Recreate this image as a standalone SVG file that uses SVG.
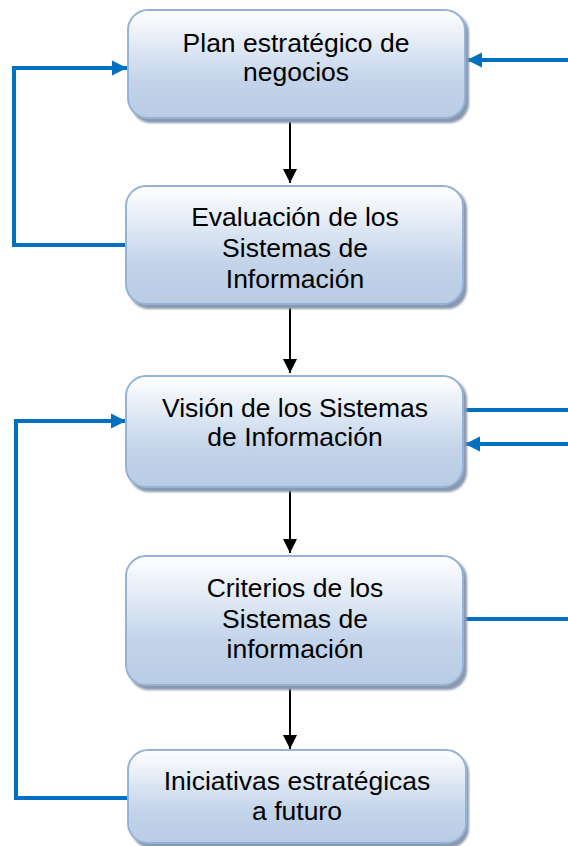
<svg xmlns="http://www.w3.org/2000/svg" width="568" height="846" viewBox="0 0 568 846">
<defs>
<linearGradient id="g" x1="0" y1="0" x2="0" y2="1">
<stop offset="0" stop-color="#ffffff"/>
<stop offset="0.65" stop-color="#c3d4ea"/>
<stop offset="1" stop-color="#b8cce4"/>
</linearGradient>
<filter id="sh" x="-5%" y="-5%" width="115%" height="120%">
<feGaussianBlur stdDeviation="1.2"/>
</filter>
<marker id="ab" viewBox="0 0 10 10" refX="10" refY="5" markerWidth="3.8" markerHeight="3.8" orient="auto" markerUnits="strokeWidth">
<path d="M0,0 L10,5 L0,10 Z" fill="#0070c0"/>
</marker>
<marker id="ak" viewBox="0 0 10 10" refX="10" refY="5" markerWidth="7" markerHeight="7" orient="auto" markerUnits="strokeWidth">
<path d="M0,0 L10,5 L0,10 Z" fill="#000"/>
</marker>
</defs>
<style>
.box{fill:url(#g);stroke:#95b3d7;stroke-width:2}
.shadow{fill:#8a99ae;filter:url(#sh)}
.t{font-family:"Liberation Sans",Arial,sans-serif;font-size:26.5px;fill:#000;text-anchor:middle}
.blue{fill:none;stroke:#0070c0;stroke-width:4}
.blk{fill:none;stroke:#000;stroke-width:2}
</style>
<g id="connectors">
<path class="blk" d="M290,122 V183" marker-end="url(#ak)"/>
<path class="blk" d="M290,308 V373" marker-end="url(#ak)"/>
<path class="blk" d="M290,490 V553" marker-end="url(#ak)"/>
<path class="blk" d="M290,688 V749" marker-end="url(#ak)"/>
<path class="blue" d="M126,245 H14 V68 H127" marker-end="url(#ab)"/>
<path class="blue" d="M568,60 H467" marker-end="url(#ab)"/>
<path class="blue" d="M463,410 H568"/>
<path class="blue" d="M568,444 H465" marker-end="url(#ab)"/>
<path class="blue" d="M463,619 H568"/>
<path class="blue" d="M128,798 H16 V421 H126" marker-end="url(#ab)"/>
</g>
<g id="n1">
<rect class="shadow" x="131" y="13" width="338" height="110" rx="20"/>
<rect class="box" x="128" y="10" width="337" height="108" rx="20"/>
<text class="t" x="296" y="52">Plan estratégico de</text>
<text class="t" x="296" y="81">negocios</text>
</g>
<g id="n2">
<rect class="shadow" x="129" y="189" width="338" height="120" rx="20"/>
<rect class="box" x="126" y="186" width="337" height="118" rx="20"/>
<text class="t" x="295" y="226">Evaluación de los</text>
<text class="t" x="295" y="257">Sistemas de</text>
<text class="t" x="295" y="288">Información</text>
</g>
<g id="n3">
<rect class="shadow" x="129" y="379" width="338" height="113" rx="20"/>
<rect class="box" x="126" y="376" width="337" height="111" rx="20"/>
<text class="t" x="295" y="417">Visión de los Sistemas</text>
<text class="t" x="295" y="446">de Información</text>
</g>
<g id="n4">
<rect class="shadow" x="129" y="559" width="338" height="131" rx="20"/>
<rect class="box" x="126" y="556" width="337" height="129" rx="20"/>
<text class="t" x="295" y="597">Criterios de los</text>
<text class="t" x="295" y="628">Sistemas de</text>
<text class="t" x="295" y="658">información</text>
</g>
<g id="n5">
<rect class="shadow" x="131" y="753" width="338" height="95" rx="20"/>
<rect class="box" x="128" y="750" width="338" height="93" rx="20"/>
<text class="t" x="297" y="790">Iniciativas estratégicas</text>
<text class="t" x="297" y="820">a futuro</text>
</g>
</svg>
